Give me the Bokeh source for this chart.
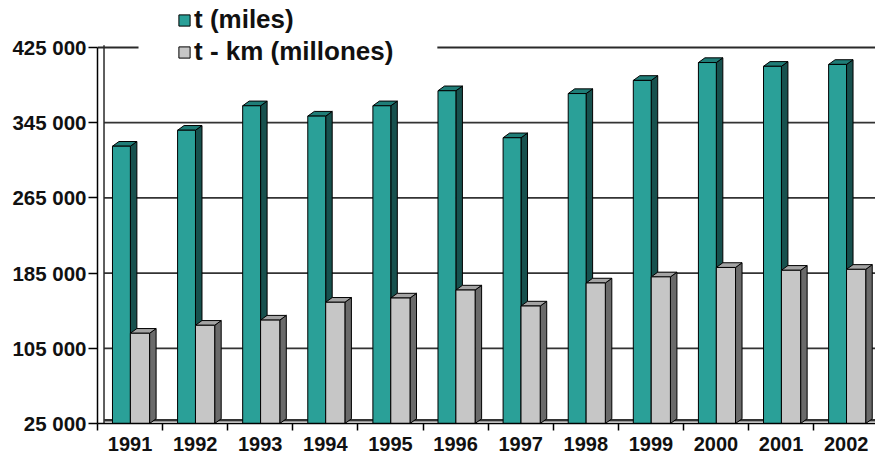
from bokeh.plotting import figure
from bokeh.models import FixedTicker, Legend, LegendItem, Range1d
from bokeh.embed import file_html
from bokeh.resources import INLINE

years = ["1991", "1992", "1993", "1994", "1995", "1996", "1997", "1998", "1999", "2000", "2001", "2002"]
t_miles = [320000, 337000, 363000, 352000, 363000, 379000, 329000, 376000, 390000, 409000, 405000, 407000]
t_km = [121000, 129500, 135000, 154000, 158500, 167000, 150000, 174500, 181000, 191000, 188000, 189000]
y_ticks = [25000, 105000, 185000, 265000, 345000, 425000]
y_tick_labels = ["25 000", "105 000", "185 000", "265 000", "345 000", "425 000"]
series_names = ["t (miles)", "t - km (millones)"]

Y0 = 25000
Y1 = 425000
Y_TOP = 475000   # frame extends above the top tick so the legend is not clipped
X_END = 11.95
DX = 0.1      # 3D depth, x
DY = 5000     # 3D depth, y

FONT = "Liberation Sans"

p = figure(width=875, height=461, output_backend="svg", toolbar_location=None,
           x_range=Range1d(0, X_END), y_range=Range1d(Y0, Y_TOP),
           min_border_left=97, min_border_right=0, min_border_top=0, min_border_bottom=38)
p.outline_line_color = None
p.xgrid.visible = False
p.ygrid.visible = False
p.background_fill_color = "white"
p.border_fill_color = "white"

# back wall gridlines
grid_vals = [v for v in y_ticks if v not in (Y0, Y1)]
p.segment(x0=[DX] * len(grid_vals), x1=[X_END] * len(grid_vals), y0=grid_vals, y1=grid_vals,
          line_color="#333333", line_width=1.8)
# top border (interrupted by legend)
p.segment(x0=[0.0, 5.22], x1=[0.63, X_END], y0=[Y1, Y1], y1=[Y1, Y1],
          line_color="#2a2a2a", line_width=1.8)
# back wall inner edge
p.segment(x0=[DX], x1=[DX], y0=[Y0], y1=[Y1 + DY * 0.5], line_color="#2a2a2a", line_width=1.5)
# floor back edge
p.segment(x0=[DX], x1=[X_END], y0=[Y0 + 3500], y1=[Y0 + 3500], line_color="#333333", line_width=2.5)


def bars3d(vals, off_l, off_r, front, side, top):
    lefts = [i + off_l for i in range(len(vals))]
    rights = [i + off_r for i in range(len(vals))]
    side_xs = [[r, r + DX, r + DX, r] for r in rights]
    side_ys = [[Y0, Y0 + DY, v + DY, v] for v in vals]
    top_xs = [[l, l + DX, r + DX, r] for l, r in zip(lefts, rights)]
    top_ys = [[v, v + DY, v + DY, v] for v in vals]
    p.patches(side_xs, side_ys, fill_color=side, line_color="black", line_width=1)
    p.patches(top_xs, top_ys, fill_color=top, line_color="black", line_width=1)
    return p.quad(left=lefts, right=rights, bottom=[Y0] * len(vals), top=vals,
                  fill_color=front, line_color="black", line_width=1)


r_teal = bars3d(t_miles, 0.23, 0.505, "#2aa098", "#17514e", "#1f7d77")
r_grey = bars3d(t_km, 0.505, 0.80, "#c6c6c6", "#6a6a6a", "#a4a4a4")

# axes
xax = p.xaxis[0]
xax.ticker = FixedTicker(ticks=[i + 0.5 for i in range(len(years))],
                         minor_ticks=list(range(len(years) + 1)))
xax.major_label_overrides = {i + 0.5: y for i, y in enumerate(years)}
xax.major_tick_line_color = None
xax.major_tick_out = 7
xax.major_tick_in = 0
xax.minor_tick_out = 7
xax.minor_tick_in = 0
xax.minor_tick_line_color = "black"
xax.minor_tick_line_width = 1.5
xax.axis_line_color = "black"
xax.axis_line_width = 1.5
xax.major_label_standoff = 6
xax.major_label_text_font = FONT
xax.major_label_text_font_style = "bold"
xax.major_label_text_font_size = "20px"
xax.major_label_text_color = "#111111"

yax = p.yaxis[0]
yax.ticker = FixedTicker(ticks=y_ticks, minor_ticks=[])
yax.bounds = (Y0, Y1)
yax.major_label_overrides = {v: s for v, s in zip(y_ticks, y_tick_labels)}
yax.major_tick_out = 9
yax.major_tick_in = 0
yax.major_tick_line_color = "black"
yax.major_tick_line_width = 1.5
yax.axis_line_color = "black"
yax.axis_line_width = 1.5
yax.major_label_standoff = 2
yax.major_label_text_font = FONT
yax.major_label_text_font_style = "bold"
yax.major_label_text_font_size = "20.5px"
yax.major_label_text_color = "#111111"

legend = Legend(items=[LegendItem(label=series_names[0], renderers=[r_teal]),
                       LegendItem(label=series_names[1], renderers=[r_grey])],
                location=(80, 356), orientation="vertical",
                background_fill_alpha=0, border_line_color=None,
                padding=0, margin=0, spacing=1,
                glyph_width=14, glyph_height=14, label_standoff=3,
                label_text_font=FONT, label_text_font_style="bold",
                label_text_font_size="26px", label_text_color="#111111")
p.add_layout(legend)

open("out.html", "w").write(file_html(p, INLINE))
